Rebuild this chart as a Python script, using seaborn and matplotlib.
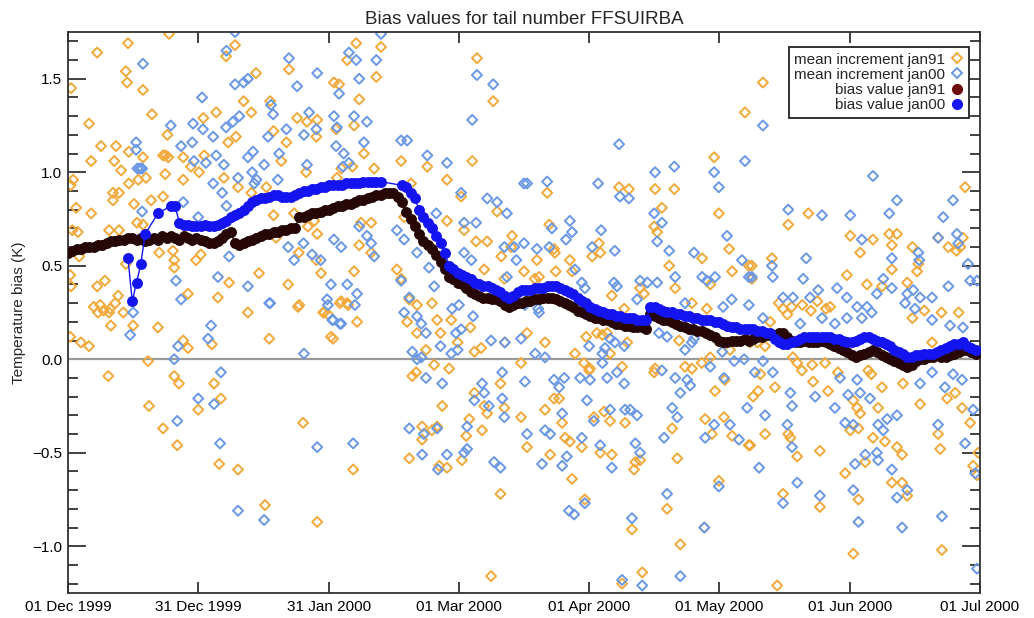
import numpy as np
import pandas as pd
import matplotlib
matplotlib.use("Agg")
import matplotlib.pyplot as plt
from matplotlib.lines import Line2D
from matplotlib.ticker import MultipleLocator
import seaborn as sns

# ---------------- data ----------------
start_date = "1999-12-01"
end_date = "2000-07-01"

tick_labels = ["01 Dec 1999", "31 Dec 1999", "31 Jan 2000", "01 Mar 2000",
               "01 Apr 2000", "01 May 2000", "01 Jun 2000", "01 Jul 2000"]

# bias value jan91: one value per day, starting 01 Dec 1999
bias_jan91 = [
    0.57, 0.58, 0.59, 0.59, 0.60, 0.60, 0.60, 0.61, 0.61, 0.62,
    0.63, 0.63, 0.64, 0.64, 0.65, 0.65, 0.64, 0.65, 0.63, 0.64,
    0.65, 0.64, 0.66, 0.65, 0.66, 0.65, 0.64, 0.66, 0.65, 0.64,
    0.65, 0.64, 0.63, 0.62, 0.62, 0.63, 0.65, 0.67, 0.68, 0.62,
    0.61, 0.62, 0.63, 0.64, 0.65, 0.66, 0.67, 0.67, 0.68, 0.68,
    0.69, 0.69, 0.70, 0.70, 0.76, 0.76, 0.77, 0.78, 0.78, 0.79,
    0.80, 0.80, 0.81, 0.82, 0.82, 0.83, 0.83, 0.84, 0.85, 0.85,
    0.86, 0.87, 0.88, 0.88, 0.89, 0.89, 0.89, 0.87, 0.84, 0.79,
    0.75, 0.71, 0.67, 0.63, 0.61, 0.59, 0.56, 0.52, 0.48, 0.44,
    0.43, 0.41, 0.40, 0.38, 0.36, 0.35, 0.34, 0.33, 0.33, 0.32,
    0.32, 0.31, 0.29, 0.28, 0.29, 0.30, 0.30, 0.31, 0.31, 0.32,
    0.32, 0.33, 0.33, 0.33, 0.32, 0.31, 0.30, 0.29, 0.28, 0.26,
    0.25, 0.24, 0.23, 0.22, 0.22, 0.21, 0.21, 0.20, 0.19, 0.19,
    0.18, 0.18, 0.17, 0.17, 0.17, 0.16, 0.24, 0.23, 0.22, 0.21,
    0.21, 0.20, 0.19, 0.18, 0.17, 0.16, 0.16, 0.15, 0.15, 0.14,
    0.13, 0.12, 0.10, 0.09, 0.09, 0.10, 0.10, 0.10, 0.11, 0.10,
    0.11, 0.12, 0.12, 0.13, 0.13, 0.13, 0.14, 0.14, 0.12, 0.10,
    0.09, 0.09, 0.10, 0.09, 0.09, 0.09, 0.10, 0.09, 0.08, 0.07,
    0.06, 0.05, 0.04, 0.02, 0.01, 0.02, 0.03, 0.04, 0.05, 0.04,
    0.02, 0.01, 0.00, -0.01, -0.02, -0.03, -0.04, -0.03, -0.01, 0.00,
    0.00, 0.01, 0.01, 0.02, 0.01, 0.01, 0.02, 0.03, 0.04, 0.05,
    0.05, 0.04, 0.03,
]

# bias value jan00: one value per day, starting 15 Dec 1999 (nan = no value)
jan00_start = "1999-12-15"
bias_jan00 = [
    0.54, 0.31, 0.41, 0.51, 0.67, np.nan, np.nan, 0.78, np.nan, np.nan, 0.82, 0.82,
    0.73, 0.72, 0.72, 0.71, 0.71, 0.71, 0.72, 0.71,
    0.71, 0.72, 0.73, 0.74, 0.76, 0.77, 0.78, 0.80, 0.82, 0.84,
    0.85, 0.86, 0.86, 0.87, 0.88, 0.88, 0.87, 0.87, 0.87, 0.88,
    0.89, 0.90, 0.90, 0.91, 0.91, 0.92, 0.92, 0.93, 0.93, 0.93,
    0.93, 0.94, 0.94, 0.94, 0.94, 0.95, 0.95, 0.95, 0.95, 0.95,
    np.nan, np.nan, np.nan, np.nan,
    0.93, 0.92, 0.89, 0.86, 0.80, 0.76, 0.73, 0.70, 0.66, 0.62,
    0.57, 0.50, 0.48, 0.46, 0.45, 0.44, 0.43, 0.41, 0.40, 0.39,
    0.39, 0.38, 0.37, 0.36, 0.34, 0.33, 0.34, 0.36, 0.37, 0.37,
    0.37, 0.38, 0.38, 0.38, 0.39, 0.39, 0.39, 0.38, 0.37, 0.36,
    0.35, 0.33, 0.31, 0.30, 0.28, 0.27, 0.26, 0.25, 0.24, 0.24,
    0.23, 0.23, 0.22, 0.22, 0.22, 0.21, 0.21, 0.21, 0.28, 0.28,
    0.27, 0.26, 0.25, 0.25, 0.24, 0.24, 0.23, 0.23, 0.22, 0.22,
    0.21, 0.21, 0.21, 0.20, 0.20, 0.19, 0.18, 0.17, 0.17, 0.16,
    0.16, 0.16, 0.16, 0.15, 0.15, 0.14, 0.14, 0.11, 0.09, 0.08,
    0.08, 0.09, 0.10, 0.11, 0.12, 0.12, 0.12, 0.12, 0.12, 0.12,
    0.12, 0.11, 0.11, 0.10, 0.09, 0.09, 0.10, 0.11, 0.12, 0.12,
    0.11, 0.10, 0.09, 0.08, 0.07, 0.05, 0.04, 0.03, 0.01, 0.01,
    0.02, 0.02, 0.03, 0.03, 0.03, 0.04, 0.05, 0.06, 0.07, 0.08,
    0.08, 0.09, 0.07, 0.06, 0.05,
]

# mean increment jan91 (days since 01 Dec 1999, value)
inc91_day = [
    23.6, 14, 6.8, 13.5, 13.8, 17.5, 0.7, 43.9, 51.6, 39, 36.9, 19.6, 47.2, 41, 42.8, 4.9, 34.6, 31.6, 23.2, 37.4,
    39.2, 48, 51, 7.7, 11.2, 5.4, 10.8, 12.4, 14.2, 17.5, 22.2, 22.8, 23.4, 26.9, 22.7, 26.9, 28.7, 30.6, 31.8, 36.4,
    39.7, 42.8, 46.3, 49.8, 14.2, 16.4, 18.2, 1.2, 1.9, 0.6, 10.5, 11.9, 10.5, 5.4, 15.4, 19.4, 22.2, 16.1, 17.5, 9.6,
    11.9, 2.3, 1.0, 48, 48.6, 2.6, 0.4, 13.5, 21.3, 24.5, 24.8, 24.8, 29.9, 31, 44.6, 37.6, 51.4, 6.8, 8.6, 0.5,
    0.7, 11.7, 28, 35, 6, 7.5, 8.3, 9.8, 11,
    7, 9.6, 12.9, 10, 15.2, 21, 0.5, 3, 4.9, 26.9, 28, 33.6, 42, 47, 18.7, 9.4, 24.8, 25.9, 34.1, 35.7,
    18.9, 30.4, 22.2, 25.5, 35.3, 39.7, 46, 53.7, 59.6, 60.7, 63.5, 65.4,
    67.3, 73.1, 65.2, 72, 62.1, 63.3, 68, 95.5, 99.3, 53.5, 55.8, 58.2, 58, 62.6, 66.8, 69.1, 55.6, 62.8, 63.8, 66.4,
    71.5, 77.8, 83.9, 88.5, 94.4, 80.1, 91.8, 100.2, 95.3, 97.9, 103.7, 52.8, 57.5, 56, 58.2, 78.5, 68.4, 70.8, 68, 70.8,
    66.8, 76.8, 77.8, 53.9, 58, 59.1, 63.8, 65.2, 54, 79.7, 81.5, 85, 97.2, 101.9, 101.2, 103.5, 88.5, 92.5,
    67.5, 61.4, 61.9, 54.9, 66.6, 58.2, 59.8, 79.2, 81.5, 86.2, 89.5, 94, 87, 83.6, 91, 94.9, 96.5, 81.3, 80.4, 85.5,
    89, 101, 105.8, 87.4, 93.7, 94.9, 97.2, 97.9, 101.9, 96.7, 82.7, 85, 86.2, 82.7, 93, 79.7, 86.7, 88.5, 92, 101,
    98.8, 105.8,
    158.1, 150.9, 128.7, 131, 137.1, 141.6, 111.9, 152, 138.7, 112.4, 136.9, 137.6, 124, 124.3, 122.4, 113.5, 113.7, 109.5, 154.4, 148.1,
    140.4, 106.5, 110, 109, 113.9, 117.7, 155.1, 159, 117.2, 127, 129.9, 141.8, 133.6, 134.5, 150, 145.7, 149.2,
    107.2, 111.4, 121.7, 121.9, 118.4, 120.5, 124.8, 125.9, 126.6, 129.4, 130.6, 136.9, 137.1, 142.7, 144.1, 145.7, 150, 151.1, 153.4, 113.5,
    114.7, 111.4, 115.4, 107.2, 112.6, 116.1, 117.2, 120, 122.8, 125.2, 126.6, 130.1, 124.3, 127, 132.5, 133.6, 132.2, 141.1, 142.3, 148.8,
    150.4, 153.2, 155.1, 159, 117.7, 120.7, 139.9, 131.7, 143, 134.1, 129.4, 152, 148.6, 102, 121, 123.5, 148, 154.6, 161,
    162.3, 209.5, 168.2, 172.9, 182.7, 188, 185, 191.8, 193.6, 192.4, 197.2, 203.2, 205.6, 208.4, 207.5, 192.4, 198.6, 198.3, 181.9, 186.6,
    190.1, 196, 159.7, 164.4, 159.7, 166, 167, 169, 171.5, 175, 177, 178, 173.5, 209, 200, 204, 208,
    168, 164, 159.3, 162.8, 170.3, 171.4, 169.3, 173.8, 176.8, 161.7, 165.1, 161.2, 160, 174, 177.5, 179.8, 186.9, 187.6, 190.1, 183.4,
    184.3, 185, 189.2, 197.2, 195, 199, 201.8, 205.3, 207.2, 208.8, 210.7, 212.6, 162.8, 159.3, 168.2, 168.7, 170.3, 175.6, 182.7, 184.6,
    188, 190.8, 193.6, 194.8, 186.2, 181.5, 192.4, 194.8, 203.2, 203.7, 167, 175.6, 184.6, 196, 183.4, 204.1, 165.6, 211.4, 212.3,
]
inc91_val = [
    1.74, 1.69, 1.64, 1.54, 1.48, 1.44, 1.45, 1.53, 1.55, 1.68, 1.62, 1.31, 1.38, 1.38, 1.32, 1.26, 1.32, 1.29, 1.20, 1.16,
    1.19, 1.22, 1.16, 1.14, 1.14, 1.06, 1.06, 1.01, 1.11, 1.08, 1.09, 1.09, 1.08, 1.08, 0.99, 0.96, 1.03, 1.00, 1.09, 0.97,
    0.92, 0.89, 0.92, 1.06, 0.94, 0.96, 0.97, 0.96, 0.81, 0.93, 0.89, 0.89, 0.85, 0.78, 0.83, 0.85, 0.87, 0.73, 0.72, 0.69,
    0.69, 0.68, 0.69, 0.77, 0.65, 0.55, 0.57, 0.51, 0.57, 0.58, 0.53, 0.49, 0.53, 0.56, 0.46, 0.41, 0.40, 0.39, 0.42, 0.45,
    0.39, 0.34, 0.35, 0.33, 0.28, 0.29, 0.26, 0.27, 0.30,
    0.25, 0.25, 0.25, 0.18, 0.18, 0.17, 0.12, 0.09, 0.07, 0.10, 0.06, 0.08, 0.25, 0.11, -0.01, -0.09, -0.09, -0.13, -0.13, -0.21,
    -0.25, -0.27, -0.37, -0.46, -0.56, -0.59, -0.78, 0.28, 0.25, 0.24, 0.30, 0.29,
    1.69, 1.67, 1.60, 1.51, 1.48, 1.47, 1.39, 1.61, 1.38, 1.29, 1.27, 1.28, 1.19, 1.23, 1.25, 1.10, 1.00, 0.97, 1.02, 1.03,
    1.02, 1.06, 1.03, 0.96, 1.06, 0.94, 0.87, 0.79, 0.63, 0.63, 0.66, 0.78, 0.74, 0.71, 0.67, 0.76, 0.73, 0.73, 0.61, 0.57,
    0.47, 0.48, 0.43, 0.57, 0.53, 0.46, 0.31, 0.30, 0.29, 0.32, 0.29, 0.30, 0.48, 0.43, 0.55, 0.60, 0.74, 0.69,
    0.20, 0.12, 0.11, -0.34, -0.59, -0.87, 0.25, 0.20, 0.14, 0.21, 0.21, 0.17, 0.14, 0.05, 0.09, 0.04, 0.06, -0.07, -0.09, -0.03,
    -0.05, -0.13, -0.02, -0.25, -0.32, -0.18, -0.25, -0.29, -0.26, -0.38, -0.36, -0.38, -0.36, -0.43, -0.41, -0.53, -0.57, -0.58, -0.54, -0.72,
    -1.16, -0.31,
    1.32, 1.08, 0.92, 0.91, 0.91, 0.91, 0.89, 0.78, 0.81, 0.72, 0.71, 0.68, 0.62, 0.57, 0.55, 0.59, 0.57, 0.53, 0.59, 0.54,
    0.50, 0.47, 0.44, 0.43, 0.47, 0.47, 0.47, 0.50, 0.53, 0.34, 0.27, 0.38, 0.38, 0.35, 0.40, 0.30, 0.27,
    0.14, 0.09, -0.06, -0.05, 0.03, -0.02, 0.13, 0.14, 0.03, -0.04, 0.09, -0.07, -0.05, 0.10, -0.04, -0.05, 0.01, -0.17, -0.11, -0.21,
    -0.21, -0.27, -0.34, -0.47, -0.51, -0.42, -0.44, -0.47, -0.31, -0.28, -0.33, -0.34, -0.50, -0.51, -0.55, -0.54, -0.59, -0.37, -0.53, -0.32,
    -0.40, -0.31, -0.41, -0.46, -0.64, -0.75, -0.80, -0.91, -0.99, -1.14, -1.20, -0.65, -0.90, 0.09, 0.12, 0.14, -0.02, 0.05, 0.09,
    1.48, 0.92, 0.72, 0.78, 0.66, 0.64, 0.57, 0.67, 0.67, 0.61, 0.60, 0.65, 0.60, 0.60, 0.58, 0.48, 0.51, 0.47, 0.45, 0.40,
    0.39, 0.41, 0.50, 0.54, 0.43, 0.30, 0.27, 0.28, 0.29, 0.31, 0.27, 0.28, 0.26, 0.65, 0.26, 0.25, 0.25,
    0.24, 0.20, 0.09, 0.07, -0.02, -0.06, 0.01, -0.03, -0.02, -0.08, -0.15, -0.17, -0.20, -0.12, -0.17, -0.07, -0.06, -0.08, -0.15, -0.22,
    -0.26, -0.29, -0.26, 0.22, -0.13, -0.24, 0.09, -0.21, -0.18, -0.26, -0.34, -0.50, -0.40, -0.46, -0.40, -0.42, -0.52, -0.49, -0.38, -0.37,
    -0.42, -0.44, -0.47, -0.51, -0.55, -0.61, -0.66, -0.66, -0.40, -0.48, -0.72, -0.79, -0.75, -0.73, -1.04, -1.02, -1.21, -0.57, -0.62,
]

# mean increment jan00 (days since 01 Dec 1999, value)
inc00_day = [
    39, 37, 17.5, 51.6, 39, 41, 42, 31.3, 47.4, 47.9, 24, 29.2, 31.5, 33.9, 36.9, 38.5, 40, 51, 46.7, 15.9,
    15.9, 16.2, 16.8, 17.3, 26.4, 29, 29.4, 32.2, 34.6, 36.4, 42, 43.2, 45.8, 49.3, 39.7, 43, 44, 43.5, 49, 33.9,
    36, 37, 26.9, 17.3, 30.4, 51.4, 37.6, 35, 42, 25.2, 26.4, 47, 15.2,
    33.4, 32.7, 25.7, 24.8, 14.5, 35.7, 30.4, 34.1, 25.5, 35.5, 39.7, 45.8, 60.7, 61.9, 63.5, 67, 47.2,
    73.1, 65.6, 67.3, 72, 58.2, 53.5, 63.3, 68, 95.5, 99.3, 94.4, 56.3, 62.1, 62.8, 58, 55.1, 66.8, 69.8, 69.1, 62.6,
    64.4, 65.6, 64.2, 77.8, 79.2, 83.9, 88.5, 55.8, 91.8, 97.9, 100.2, 102.5, 107.2, 86, 92.5, 95.3, 55, 52.8, 57, 59,
    62.1, 63.8, 68, 69.8, 70.8, 71.5, 76.8, 78.5, 81.5, 84.3, 92.5, 94.2, 101.9, 104.2, 104.7, 102.5, 61.4, 65.2, 67.5, 77.8,
    85.5, 79.7, 91.3, 89.7, 60.5,
    55.1, 58.2, 66.6, 63.8, 61.7, 78.5, 81.5, 82.5, 83.6, 80.4, 81.5, 82.5, 87, 89.5, 91, 90.6, 91.8, 94.6, 98.8, 102,
    105.8, 83.6, 87.4, 96.7, 97.2, 94.9, 101.4, 101.4, 101.9, 98.3, 79.7, 86.2, 83.1, 93.2, 82.7, 88.5, 93.2, 92.5, 86.4, 99.5,
    101,
    128.7, 141.6, 137.1, 150.9, 152, 158.1, 106.5, 111.9, 123.8, 128.9, 131, 136.9, 138.7, 137.6, 140.4, 153.9, 113, 117.2, 117.7, 116.3,
    106.5, 109.5, 112.4, 124.5, 127.7, 122.4, 146.2, 157.4, 141.8, 148.1, 149.2, 151.1, 159, 120, 120.7, 127.5, 128.2, 133.6, 135.3, 137.6,
    118.4, 132.9, 144.1, 153, 155, 159, 106.7, 109.8,
    110, 109.1, 111.4, 106.7, 113.5, 115.9, 114.7, 119.6, 121.9, 121.2, 121.7, 124.8, 125.4, 126.6, 127.7, 129.9, 124.8, 125.9, 128.2, 129.9,
    138, 139.9, 138.7, 141.8, 144.6, 143, 145.3, 144.1, 145.7, 146.2, 150, 152.8, 153.2, 155.6, 157.9, 158.6, 115.4, 122.8, 126.6, 130.1,
    131.3, 132.9, 141.1, 142.3, 150.9, 154.6, 156.7, 139.2, 148.8, 107.2, 111.4, 112.6, 120, 124.3, 132.5, 133.6, 110.7, 115.4, 116.5, 127,
    120.7, 117, 118.2, 139.9, 152, 131.7, 148.6, 143, 129.4, 134.1,
    162.3, 194.1, 188, 193.6, 191.8, 206.7, 204.4, 168.2, 176.1, 182.7, 185.4, 207.6, 207.9, 210.2, 212.3, 203.2, 192.4, 198.6, 198.8, 172.4,
    159.7, 164.4, 164.6, 171.7, 175.2, 179.6, 181.9, 188.9, 190.4, 192.4, 196, 197.4, 199, 201.8, 205.6, 210.7, 167, 169.3, 173.3, 184.3,
    186.6, 195.5, 197.8,
    162.3, 171, 176.1, 179.1, 181.9, 185.4, 187.7, 201.8, 206, 209,
    162.3, 164.6, 160.4, 168.7, 169.1, 174.5, 180.3, 184.3, 185, 182.2, 187.3, 179.1, 199, 201.8, 204.8, 206.7, 208.8, 211.4, 162.8, 168,
    169.1, 181.5, 183.4, 189.2, 190.4, 191.3, 193.6, 203.2, 209.5, 186.2, 188.9, 189.2, 183.8, 161.4, 192.4, 170.3, 183.4, 193.6, 196, 167,
    175.6, 184.6, 194.8, 204.1, 212.3, 211.9,
]
inc00_val = [
    1.75, 1.65, 1.58, 1.61, 1.47, 1.48, 1.50, 1.40, 1.36, 1.31, 1.25, 1.26, 1.23, 1.19, 1.24, 1.27, 1.30, 1.23, 1.19, 1.16,
    1.12, 1.02, 1.02, 1.02, 1.14, 1.16, 1.06, 1.05, 1.09, 1.04, 1.08, 1.11, 1.04, 1.10, 0.97, 1.00, 0.96, 0.94, 0.96, 0.94,
    0.89, 0.82, 0.84, 0.79, 0.76, 0.60, 0.55, 0.44, 0.39, 0.42, 0.32, 0.30, 0.25,
    0.18, 0.11, 0.07, 0.00, 0.13, -0.07, -0.21, -0.24, -0.33, -0.45, -0.81, -0.86, 0.29, 0.21, 0.19, 0.29, 0.30,
    1.74, 1.64, 1.60, 1.60, 1.53, 1.46, 1.42, 1.50, 1.52, 1.47, 1.28, 1.32, 1.30, 1.24, 1.23, 1.20, 1.30, 1.27, 1.16, 1.14,
    1.10, 1.05, 1.03, 1.17, 1.17, 1.09, 1.05, 1.04, 0.89, 0.86, 0.84, 0.78, 0.94, 0.78, 0.73, 0.73, 0.62, 0.53, 0.56, 0.53,
    0.64, 0.60, 0.71, 0.66, 0.62, 0.55, 0.69, 0.64, 0.57, 0.49, 0.57, 0.53, 0.60, 0.60, 0.53, 0.44, 0.40, 0.40, 0.35, 0.42,
    0.39, 0.33, 0.29, 0.27, 0.32,
    0.03, -0.47, -0.45, 0.19, 0.21, 0.25, 0.23, 0.19, 0.14, 0.04, 0.00, 0.01, 0.07, 0.03, 0.05, 0.14, 0.16, 0.23, 0.10, 0.09,
    0.11, -0.10, -0.13, -0.13, -0.18, -0.22, -0.07, -0.21, -0.31, -0.25, -0.37, -0.37, -0.40, -0.36, -0.51, -0.51, -0.48, -0.50, -0.59, -0.55,
    -0.58,
    1.15, 1.03, 1.00, 1.00, 0.92, 1.06, 0.94, 0.95, 0.94, 0.87, 0.86, 0.78, 0.73, 0.63, 0.58, 0.66, 0.70, 0.74, 0.68, 0.64,
    0.62, 0.59, 0.60, 0.69, 0.58, 0.60, 0.57, 0.53, 0.44, 0.44, 0.42, 0.44, 0.44, 0.41, 0.38, 0.41, 0.39, 0.42, 0.41, 0.41,
    0.48, 0.32, 0.30, 0.28, 0.32, 0.29, 0.29, 0.27,
    0.25, 0.03, 0.01, -0.12, -0.11, -0.10, -0.15, -0.10, -0.11, -0.22, 0.07, 0.03, 0.06, 0.11, 0.09, 0.07, -0.02, -0.10, -0.07, -0.13,
    0.14, 0.12, -0.06, -0.10, -0.11, -0.18, -0.14, 0.05, 0.09, 0.11, -0.04, 0.04, -0.10, -0.01, 0.00, -0.26, -0.29, -0.33, -0.27, -0.27,
    -0.27, -0.30, -0.26, -0.31, -0.35, -0.35, -0.43, -0.42, -0.42, -0.40, -0.38, -0.40, -0.42, -0.46, -0.45, -0.50, -0.56, -0.57, -0.52, -0.58,
    -0.77, -0.81, -0.83, -0.72, -0.68, -0.85, -0.90, -1.16, -1.18, -1.21,
    1.25, 1.32, 0.98, 0.85, 0.78, 0.85, 0.76, 0.80, 0.77, 0.77, 0.64, 0.67, 0.62, 0.51, 0.42, 0.65, 0.54, 0.57, 0.53, 0.54,
    0.44, 0.50, 0.44, 0.43, 0.37, 0.38, 0.33, 0.35, 0.43, 0.38, 0.35, 0.37, 0.33, 0.33, 0.39, 0.42, 0.33, 0.33, 0.33, 0.28,
    0.28, 0.30, 0.27,
    0.22, 0.19, 0.22, 0.19, 0.22, 0.22, 0.25, 0.21, 0.18, 0.17,
    -0.01, -0.07, -0.07, -0.18, -0.25, -0.20, -0.10, -0.11, -0.18, -0.19, -0.21, -0.26, -0.13, -0.07, -0.15, -0.08, -0.11, -0.27, -0.30, -0.35,
    -0.47, -0.34, -0.35, -0.35, -0.38, -0.32, -0.30, -0.35, -0.45, -0.51, -0.50, -0.54, -0.56, -0.58, -0.59, -0.66, -0.70, -0.74, -0.70, -0.77,
    -0.73, -0.87, -0.90, -0.84, -1.12, -0.61,
]

# ---------------- styling ----------------
sns.set_style("ticks")
plt.rcParams["font.family"] = ["Liberation Sans", "DejaVu Sans"]

c_inc91 = "#F2A93B"
c_inc00 = "#6A98E4"
c_bias91 = "#260705"
c_bias91_leg = "#6E0B0B"
c_bias00 = "#1414F0"

t0 = pd.Timestamp(start_date)
t1 = pd.Timestamp(end_date)

def to_dates(days):
    return t0 + pd.to_timedelta(np.asarray(days, dtype=float), unit="D")

n91 = min(len(inc91_day), len(inc91_val))
n00 = min(len(inc00_day), len(inc00_val))
df_inc91 = pd.DataFrame({"date": to_dates(inc91_day[:n91]), "val": inc91_val[:n91]})
df_inc00 = pd.DataFrame({"date": to_dates(inc00_day[:n00]), "val": inc00_val[:n00]})

df_b91 = pd.DataFrame({"date": pd.date_range(t0, periods=len(bias_jan91), freq="D"),
                       "val": bias_jan91}).dropna()
df_b00 = pd.DataFrame({"date": pd.date_range(pd.Timestamp(jan00_start), periods=len(bias_jan00), freq="D"),
                       "val": bias_jan00}).dropna()

fig = plt.figure(figsize=(10.34, 6.18), dpi=100)
ax = fig.add_axes([0.0658, 0.0405, 0.882, 0.9077])

ax.axhline(0, color="#9a9a9a", lw=1.6, zorder=1)

sns.scatterplot(data=df_inc91, x="date", y="val", ax=ax, marker="D", s=26,
                facecolor="none", edgecolor=c_inc91, linewidth=1.4, zorder=2, legend=False)
sns.scatterplot(data=df_inc00, x="date", y="val", ax=ax, marker="D", s=26,
                facecolor="none", edgecolor=c_inc00, linewidth=1.4, zorder=2, legend=False)

sns.lineplot(data=df_b91, x="date", y="val", ax=ax, color=c_bias91, lw=1.0,
             estimator=None, zorder=3, legend=False)
sns.scatterplot(data=df_b91, x="date", y="val", ax=ax, color=c_bias91, s=62,
                linewidth=0, zorder=3, legend=False)
sns.lineplot(data=df_b00, x="date", y="val", ax=ax, color=c_bias00, lw=1.0,
             estimator=None, zorder=4, legend=False)
sns.scatterplot(data=df_b00, x="date", y="val", ax=ax, color=c_bias00, s=62,
                linewidth=0, zorder=4, legend=False)

ax.set_xlim(t0, t1)
ax.set_ylim(-1.25, 1.75)

span = (t1 - t0)
tick_pos = [t0 + span * k / (len(tick_labels) - 1) for k in range(len(tick_labels))]
ax.set_xticks(tick_pos)
ax.set_xticklabels(tick_labels)
ax.yaxis.set_major_locator(MultipleLocator(0.5))
ax.yaxis.set_minor_locator(MultipleLocator(0.1))

for sp in ax.spines.values():
    sp.set_color("#333333")
    sp.set_linewidth(1.3)

ax.tick_params(axis="x", which="major", direction="in", length=8, width=1.3,
               top=True, bottom=True, labelsize=11, pad=5, colors="#333333", labelcolor="black")
ax.tick_params(axis="y", which="major", direction="in", length=13, width=1.3,
               left=True, right=True, labelsize=11, pad=4, colors="#333333", labelcolor="black")
ax.tick_params(axis="y", which="minor", direction="in", length=7, width=1.3,
               left=True, right=True, colors="#333333")

ax.set_xlabel("")
ax.set_ylabel("Temperature bias (K)", fontsize=11, labelpad=5)
ax.set_title("Bias values for tail number FFSUIRBA", fontsize=13.5, pad=6)

handles = [
    Line2D([], [], ls="", marker="D", ms=5.5, mfc="none", mec=c_inc91, mew=1.4),
    Line2D([], [], ls="", marker="D", ms=5.5, mfc="none", mec=c_inc00, mew=1.4),
    Line2D([], [], ls="", marker="o", ms=7, mfc=c_bias91_leg, mec=c_bias91_leg),
    Line2D([], [], ls="", marker="o", ms=7, mfc=c_bias00, mec=c_bias00),
]
labels = ["mean increment jan91", "mean increment jan00", "bias value jan91", "bias value jan00"]
leg = ax.legend(handles, labels, loc="upper right", bbox_to_anchor=(0.988, 0.973),
                borderaxespad=0, markerfirst=False, fontsize=11, frameon=True,
                fancybox=False, edgecolor="#222222", framealpha=1, labelspacing=0.08,
                handlelength=0.9, handletextpad=0.3, borderpad=0.35)
leg.get_frame().set_linewidth(1.3)
leg.set_zorder(10)

fig.savefig("out.png", dpi=100)
